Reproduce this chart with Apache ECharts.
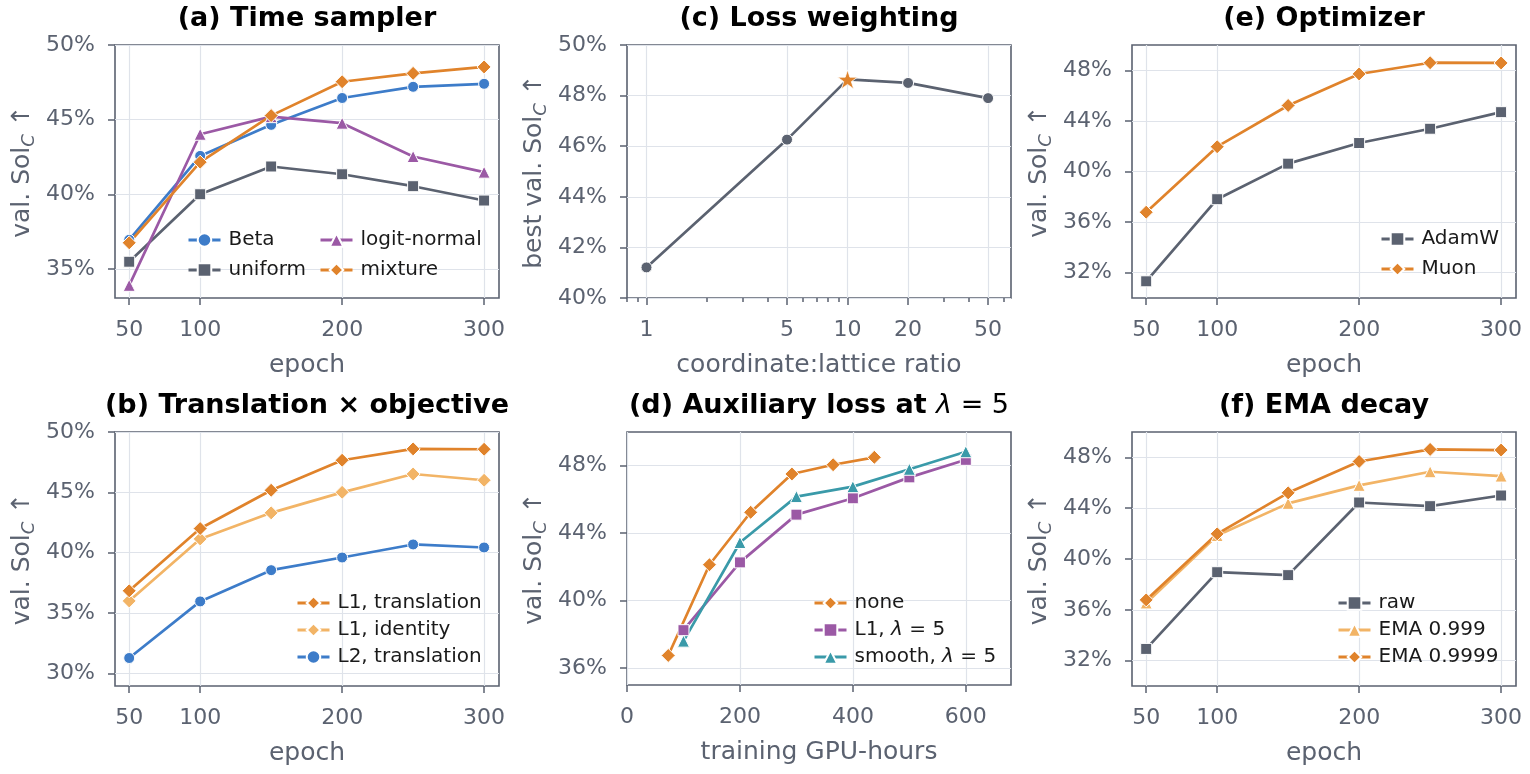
<!DOCTYPE html>
<html>
<head>
<meta charset="utf-8">
<script src="https://cdn.jsdelivr.net/npm/echarts@6.0.0/dist/echarts.min.js"></script>
<style>
html, body { margin: 0; padding: 0; background: #fff; }
#chart { width: 1530px; height: 774px; }
</style>
</head>
<body>
<div id="chart"></div>
<script>
// ---- data (values in %) ----
var epochs = [50, 100, 150, 200, 250, 300];

// (a) time sampler
var aBeta = [36.95, 42.57, 44.65, 46.45, 47.2, 47.4];
var aUniform = [35.48, 40.0, 41.86, 41.34, 40.54, 39.58];
var aLogitNormal = [33.9, 44.02, 45.2, 44.76, 42.53, 41.48];
var aMixture = [36.75, 42.15, 45.27, 47.54, 48.1, 48.53];

// (b) translation x objective
var bL1Translation = [36.84, 42.0, 45.17, 47.66, 48.6, 48.57];
var bL1Identity = [36.0, 41.14, 43.3, 45.0, 46.52, 46.0];
var bL2Translation = [31.27, 35.96, 38.55, 39.6, 40.68, 40.43];

// (c) loss weighting
var cRatios = [1, 5, 10, 20, 50];
var cBest = [41.21, 46.26, 48.64, 48.5, 47.9];
var cChosen = 10;

// (d) auxiliary loss
var dNoneHours = [73, 146, 219, 292, 365, 438];
var dNone = [36.75, 42.13, 45.24, 47.51, 48.06, 48.5];
var dAuxHours = [100, 200, 300, 400, 500, 600];
var dL1 = [38.25, 42.27, 45.1, 46.07, 47.31, 48.35];
var dSmooth = [37.6, 43.45, 46.17, 46.76, 47.79, 48.83];

// (e) optimizer
var eAdamW = [31.32, 37.81, 40.62, 42.25, 43.38, 44.69];
var eMuon = [36.78, 41.96, 45.22, 47.71, 48.6, 48.58];

// (f) EMA decay
var fRaw = [32.92, 38.96, 38.73, 44.45, 44.16, 45.0];
var fEma999 = [36.54, 41.85, 44.38, 45.8, 46.87, 46.53];
var fEma9999 = [36.78, 41.98, 45.21, 47.68, 48.63, 48.58];

// ticks
var epochTicks = [50, 100, 200, 300];
var ratioTicks = [1, 5, 10, 20, 50];
var ratioMinorTicks = [0.8, 0.9, 2, 3, 4, 6, 7, 8, 9, 30, 40, 60];
var hourTicks = [0, 200, 400, 600];
var yTicksA = [35, 40, 45, 50];
var yTicksB = [30, 35, 40, 45, 50];
var yTicksC = [40, 42, 44, 46, 48, 50];
var yTicksD = [36, 40, 44, 48];
var yTicksEF = [32, 36, 40, 44, 48];

// ---- style ----
var FONT = 'DejaVu Sans';
var INK = '#5b6270';
var GRIDLINE = '#dfe3ea';
var BLUE = '#3d7cc9', GRAY = '#5b6270', PURPLE = '#9b59a5',
    ORANGE = '#e0832b', LIGHT = '#f2b466', TEAL = '#3a9aa9';
var STAR = 'path://M0,-100L22,-31L95,-31L36,12L59,81L0,38L-59,81L-36,12L-95,-31L-22,-31Z';

// left, top, width, height  (a, b, c, d, e, f, c-minor-ticks)
var frames = [
    [115, 45, 384, 253],
    [115, 432, 384, 254],
    [627, 45, 384, 253],
    [627, 432, 384, 253],
    [1132, 45, 384, 253],
    [1132, 432, 384, 254],
    [627, 45, 384, 253]
];

var grids = frames.map(function (f, i) {
    return {
        left: f[0], top: f[1], width: f[2], height: f[3],
        show: i < 6, borderColor: INK, borderWidth: 1.6, backgroundColor: 'transparent'
    };
});

function xAxis(gi, type, min, max, ticks, name) {
    return {
        type: type, gridIndex: gi, min: min, max: max,
        name: name, nameLocation: 'middle', nameGap: 55,
        nameTextStyle: { fontFamily: FONT, fontSize: 25, color: INK },
        axisLine: { show: false, onZero: false },
        axisTick: { show: true, customValues: ticks, length: 7, lineStyle: { color: INK, width: 1.5 } },
        axisLabel: {
            customValues: ticks, margin: 21, fontFamily: FONT, fontSize: 22, color: INK,
            formatter: function (v) { return String(Math.round(v)); }
        },
        splitLine: { show: true, lineStyle: { color: GRIDLINE, width: 1.2 } }
    };
}

function yAxis(gi, min, max, ticks, prefix) {
    return {
        type: 'value', gridIndex: gi, min: min, max: max,
        name: '{t|' + prefix + 'val. Sol}{s|C}{t| ↑}',
        nameLocation: 'middle', nameRotate: 90, nameGap: 77,
        nameTextStyle: {
            rich: {
                t: { fontFamily: FONT, fontSize: 25, color: INK },
                s: { fontFamily: FONT, fontSize: 18, fontStyle: 'italic', color: INK, padding: [14, 0, 0, 0] }
            }
        },
        axisLine: { show: false, onZero: false },
        axisTick: { show: true, customValues: ticks, length: 7, lineStyle: { color: INK, width: 1.5 } },
        axisLabel: {
            customValues: ticks, margin: 20, fontFamily: FONT, fontSize: 22, color: INK,
            formatter: function (v) { return Math.round(v) + '%'; }
        },
        splitLine: { show: true, lineStyle: { color: GRIDLINE, width: 1.2 } }
    };
}

function line(name, xs, ys, color, symbol, size, gi) {
    var pts = xs.map(function (x, i) { return [x, ys[i]]; });
    return {
        type: 'line', name: name, xAxisIndex: gi, yAxisIndex: gi, data: pts,
        symbol: symbol, symbolSize: size, showSymbol: true, clip: false,
        lineStyle: { color: color, width: 2.7 },
        itemStyle: { color: color, borderColor: '#fff', borderWidth: 1 },
        emphasis: { disabled: true }
    };
}

function legend(names, left, top, gap) {
    return {
        data: names, orient: 'vertical', left: left, top: top, itemGap: gap,
        itemWidth: 32, itemHeight: 17, padding: 0, selectedMode: false,
        lineStyle: { width: 3 },
        formatter: function (n) { return '{n|' + n.replace('λ', '}{i|λ}{n|') + '}'; },
        textStyle: {
            padding: [0, 0, 0, 3],
            rich: {
                n: { fontFamily: FONT, fontSize: 20, color: '#1a1a1a' },
                i: { fontFamily: FONT, fontSize: 20, fontStyle: 'italic', color: '#1a1a1a' }
            }
        }
    };
}

function title(text, x, top) {
    return {
        text: text, left: x, top: top, textAlign: 'center', padding: 0,
        textStyle: {
            fontFamily: FONT, fontSize: 27, fontWeight: 'bold', color: '#000',
            rich: {
                b: { fontFamily: FONT, fontSize: 27, fontWeight: 'bold', color: '#000' },
                i: { fontFamily: FONT, fontSize: 27, fontWeight: 'normal', fontStyle: 'italic', color: '#000' },
                r: { fontFamily: FONT, fontSize: 27, fontWeight: 'normal', color: '#000' }
            }
        }
    };
}

var minorAxis = xAxis(6, 'log', 0.8, 65, ratioMinorTicks, '');
minorAxis.axisTick.length = 4;
minorAxis.axisLabel.show = false;
minorAxis.splitLine.show = false;

var option = {
    animation: false,
    backgroundColor: '#fff',
    grid: grids,
    title: [
        title('(a) Time sampler', 307, 5),
        title('(b) Translation × objective', 307, 392),
        title('(c) Loss weighting', 819, 5),
        title('{b|(d) Auxiliary loss at }{i|λ}{r| = 5}', 819, 392),
        title('(e) Optimizer', 1324, 5),
        title('(f) EMA decay', 1324, 392)
    ],
    xAxis: [
        xAxis(0, 'value', 40, 310.5, epochTicks, 'epoch'),
        xAxis(1, 'value', 40, 310.5, epochTicks, 'epoch'),
        xAxis(2, 'log', 0.8, 65, ratioTicks, 'coordinate:lattice ratio'),
        xAxis(3, 'value', 0, 680, hourTicks, 'training GPU-hours'),
        xAxis(4, 'value', 40, 310.5, epochTicks, 'epoch'),
        xAxis(5, 'value', 40, 310.5, epochTicks, 'epoch'),
        minorAxis
    ],
    yAxis: [
        yAxis(0, 33.05, 50, yTicksA, ''),
        yAxis(1, 28.95, 50, yTicksB, ''),
        yAxis(2, 40, 50, yTicksC, 'best '),
        yAxis(3, 35, 50, yTicksD, ''),
        yAxis(4, 30, 50, yTicksEF, ''),
        yAxis(5, 30, 50, yTicksEF, ''),
        { type: 'value', gridIndex: 6, min: 0, max: 1, show: false }
    ],
    legend: [
        legend(['Beta', 'uniform'], 187, 230, 10),
        legend(['logit-normal', 'mixture'], 319, 230, 10),
        legend(['L1, translation', 'L1, identity', 'L2, translation'], 296, 593, 7),
        legend(['none', 'L1, λ = 5', 'smooth, λ = 5'], 813, 593, 7),
        legend(['AdamW', 'Muon'], 1380, 229, 10),
        legend(['raw', 'EMA 0.999', 'EMA 0.9999'], 1337, 593, 7)
    ],
    series: [
        line('Beta', epochs, aBeta, BLUE, 'circle', 11, 0),
        line('uniform', epochs, aUniform, GRAY, 'rect', 11, 0),
        line('logit-normal', epochs, aLogitNormal, PURPLE, 'triangle', 12, 0),
        line('mixture', epochs, aMixture, ORANGE, 'diamond', 14, 0),

        line('L2, translation', epochs, bL2Translation, BLUE, 'circle', 11, 1),
        line('L1, identity', epochs, bL1Identity, LIGHT, 'diamond', 14, 1),
        line('L1, translation', epochs, bL1Translation, ORANGE, 'diamond', 14, 1),

        (function () {
            var s = line('ratio', cRatios, cBest, GRAY, 'circle', 11, 2);
            s.data = s.data.map(function (p) {
                if (p[0] !== cChosen) return p;
                return { value: p, symbol: STAR, symbolSize: 20, symbolKeepAspect: true,
                    itemStyle: { color: ORANGE, borderColor: '#fff', borderWidth: 0.8 } };
            });
            return s;
        })(),

        line('none', dNoneHours, dNone, ORANGE, 'diamond', 14, 3),
        line('L1, λ = 5', dAuxHours, dL1, PURPLE, 'rect', 11, 3),
        line('smooth, λ = 5', dAuxHours, dSmooth, TEAL, 'triangle', 12, 3),

        line('AdamW', epochs, eAdamW, GRAY, 'rect', 11, 4),
        line('Muon', epochs, eMuon, ORANGE, 'diamond', 14, 4),

        line('raw', epochs, fRaw, GRAY, 'rect', 11, 5),
        line('EMA 0.999', epochs, fEma999, LIGHT, 'triangle', 12, 5),
        line('EMA 0.9999', epochs, fEma9999, ORANGE, 'diamond', 14, 5)
    ]
};

var chart = echarts.init(document.getElementById('chart'), null, { renderer: 'canvas' });
chart.setOption(option);
</script>
</body>
</html>
